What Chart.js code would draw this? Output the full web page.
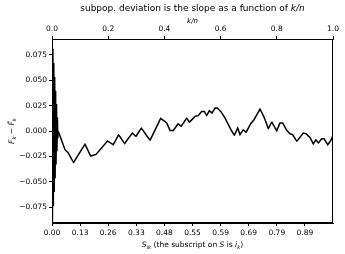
<!DOCTYPE html>
<html>
<head>
<meta charset="utf-8">
<script src="https://cdn.jsdelivr.net/npm/chart.js@4/dist/chart.umd.min.js"></script>
<style>
  html, body { margin: 0; padding: 0; background: #fff; }
  #wrap { width: 345px; height: 254px; }
</style>
</head>
<body>
<div id="wrap"><canvas id="devChart"></canvas></div>
<script>
// dense zigzag of the deviation right next to k/n = 0
const wedgeKn = [
  0.0000, 0.0016, 0.0032, 0.0048, 0.0064, 0.0080, 0.0096, 0.0112, 0.0128, 0.0144,
  0.0160, 0.0176, 0.0192, 0.0208, 0.0224
];
const wedgeDev = [
  0.0950, -0.0885, 0.0810, -0.0740, 0.0670, -0.0600, 0.0530, -0.0465, 0.0395, -0.0330,
  0.0265, -0.0200, 0.0135, -0.0070, -0.0004
];

// rest of the deviation F_k - F~_k against k/n
const kn = [
  0.0224, 0.0463, 0.0580, 0.0765, 0.1174, 0.1377, 0.1566, 0.1975, 0.2181, 0.2374,
  0.2580, 0.2858, 0.2989, 0.3178, 0.3488, 0.3868, 0.4082, 0.4200, 0.4317, 0.4495,
  0.4591, 0.4794, 0.4886, 0.5089, 0.5206, 0.5327, 0.5420, 0.5505, 0.5598, 0.5694,
  0.5801, 0.5883, 0.6004, 0.6157, 0.6335, 0.6488, 0.6609, 0.6690, 0.6808, 0.6904,
  0.7071, 0.7189, 0.7402, 0.7544, 0.7698, 0.7819, 0.7996, 0.8114, 0.8210, 0.8352,
  0.8470, 0.8566, 0.8708, 0.8943, 0.9039, 0.9181, 0.9299, 0.9395, 0.9477, 0.9598,
  0.9680, 0.9811, 0.9918, 1.0000
];
const deviation = [
  -0.0004, -0.0184, -0.0216, -0.0312, -0.0130, -0.0246, -0.0230, -0.0098, -0.0135, -0.0036,
  -0.0125, -0.0020, -0.0053, 0.0030, -0.0092, 0.0124, 0.0079, 0.0006, 0.0006, 0.0072,
  0.0045, 0.0128, 0.0085, 0.0144, 0.0151, 0.0193, 0.0193, 0.0151, 0.0200, 0.0177,
  0.0226, 0.0226, 0.0193, 0.0128, 0.0030, -0.0043, 0.0030, -0.0036, 0.0013, -0.0014,
  0.0072, 0.0111, 0.0216, 0.0138, 0.0023, 0.0089, 0.0003, 0.0079, 0.0079, 0.0006,
  -0.0027, -0.0036, -0.0102, -0.0020, -0.0027, -0.0063, -0.0125, -0.0086, -0.0118, -0.0076,
  -0.0076, -0.0135, -0.0095, -0.0046
];

// tick positions and labels
const bottomTicks = [0, 0.1, 0.2, 0.3, 0.4, 0.5, 0.6, 0.7, 0.8, 0.9];
const bottomLabels = ['0.00', '0.13', '0.26', '0.33', '0.48', '0.55', '0.59', '0.69', '0.79', '0.89'];
const topTicks = [0, 0.2, 0.4, 0.6, 0.8, 1.0];
const yTicks = [-0.075, -0.05, -0.025, 0, 0.025, 0.05, 0.075];

const FONT = 'DejaVu Sans';
const tickFont = { family: FONT, size: 7.5 };

// draw a line of text made of runs (italic / subscript) centred on cx
function drawRuns(ctx, runs, cx, cy, size) {
  const fontOf = r => (r.italic ? 'italic ' : '') + (r.sub ? size * 0.7 : size) + 'px "' + FONT + '"';
  let total = 0;
  runs.forEach(r => { ctx.font = fontOf(r); r.w = ctx.measureText(r.t).width; total += r.w; });
  let x = cx - total / 2;
  ctx.textAlign = 'left';
  ctx.textBaseline = 'middle';
  runs.forEach(r => {
    ctx.font = fontOf(r);
    ctx.fillText(r.t, x, r.sub ? cy + size * 0.3 : cy);
    x += r.w;
  });
}

const decorations = {
  id: 'decorations',
  afterDraw(chart) {
    const { ctx, chartArea: a } = chart;
    const cx = (a.left + a.right) / 2;
    ctx.save();
    ctx.strokeStyle = '#000';
    ctx.lineWidth = 1;
    ctx.strokeRect(a.left + 0.5, a.top + 0.5, a.right - a.left - 1, a.bottom - a.top - 1);
    ctx.fillStyle = '#000';
    drawRuns(ctx, [
      { t: 'subpop. deviation is the slope as a function of ' },
      { t: 'k/n', italic: true }
    ], cx, 9, 9);
    drawRuns(ctx, [{ t: 'k/n', italic: true }], cx, 21, 7);
    drawRuns(ctx, [
      { t: 'S', italic: true }, { t: 'i', italic: true, sub: true }, { t: 'k', italic: true, sub: true },
      { t: ' (the subscript on ' }, { t: 'S', italic: true }, { t: ' is ' },
      { t: 'i', italic: true }, { t: 'k', italic: true, sub: true }, { t: ')' }
    ], cx, 245, 7.5);
    ctx.translate(12, (a.top + a.bottom) / 2);
    ctx.rotate(-Math.PI / 2);
    drawRuns(ctx, [
      { t: 'F', italic: true }, { t: 'k', italic: true, sub: true }, { t: ' \u2212 ' },
      { t: 'F\u0303', italic: true }, { t: 'k', italic: true, sub: true }
    ], 0, 0, 7.5);
    ctx.restore();
  }
};

const lineStyle = {
  xAxisID: 'x',
  yAxisID: 'y',
  borderColor: '#000',
  borderWidth: 1.5,
  pointRadius: 0,
  tension: 0.0001,
  clip: 0
};

new Chart(document.getElementById('devChart'), {
  type: 'line',
  data: {
    datasets: [
      {
        ...lineStyle,
        data: wedgeKn.map((x, i) => ({ x: x, y: wedgeDev[i] })),
        // the zigzag is so dense that it reads as a solid wedge
        fill: 'origin',
        backgroundColor: '#000'
      },
      {
        ...lineStyle,
        data: kn.map((x, i) => ({ x: x, y: deviation[i] })),
        fill: false
      }
    ]
  },
  options: {
    responsive: true,
    maintainAspectRatio: false,
    animation: false,
    layout: { padding: { left: 0, right: 12, top: 0, bottom: 0 } },
    plugins: {
      legend: { display: false },
      tooltip: { enabled: false }
    },
    scales: {
      x: {
        type: 'linear',
        position: 'bottom',
        min: 0,
        max: 1,
        afterBuildTicks: s => { s.ticks = bottomTicks.map(v => ({ value: v })); },
        afterFit: s => { s.height = 31; },
        ticks: {
          callback: (v, i) => bottomLabels[i],
          font: tickFont,
          color: '#000',
          maxRotation: 0,
          autoSkip: false,
          padding: 3
        },
        grid: { drawOnChartArea: false, tickLength: 3, color: '#000' },
        border: { color: '#000' }
      },
      x2: {
        type: 'linear',
        position: 'top',
        min: 0,
        max: 1,
        afterBuildTicks: s => { s.ticks = topTicks.map(v => ({ value: v })); },
        afterFit: s => { s.height = 39; },
        ticks: {
          callback: v => v.toFixed(1),
          font: tickFont,
          color: '#000',
          maxRotation: 0,
          autoSkip: false,
          padding: 2
        },
        grid: { drawOnChartArea: false, tickLength: 3, color: '#000' },
        border: { color: '#000' }
      },
      y: {
        min: -0.0905,
        max: 0.0905,
        afterBuildTicks: s => { s.ticks = yTicks.map(v => ({ value: v })); },
        afterFit: s => { s.width = 52; },
        ticks: {
          callback: v => (v < 0 ? '\u2212' : '') + Math.abs(v).toFixed(3),
          font: tickFont,
          color: '#000',
          padding: 2
        },
        grid: { drawOnChartArea: false, tickLength: 3, color: '#000' },
        border: { color: '#000' }
      }
    }
  },
  plugins: [decorations]
});
</script>
</body>
</html>
